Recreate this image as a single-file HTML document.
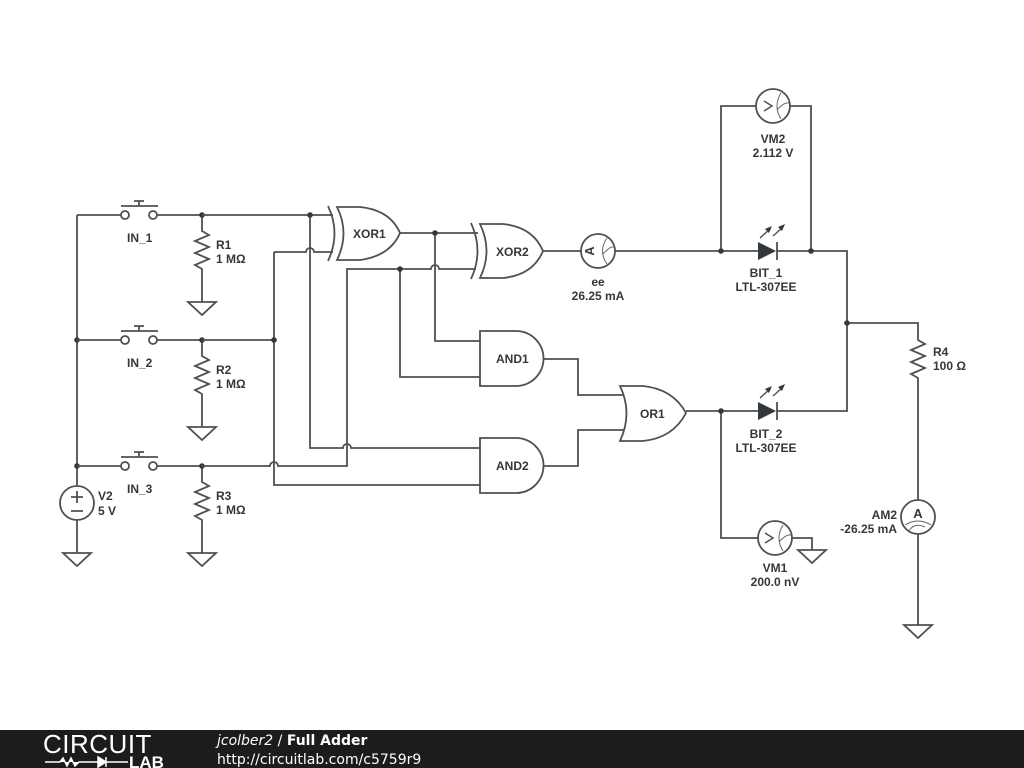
<!DOCTYPE html>
<html><head><meta charset="utf-8"><style>
html,body{margin:0;padding:0;background:#fff;}
svg{display:block;}
text{font-family:"Liberation Sans",sans-serif;font-weight:bold;font-size:12px;fill:#33383c;}
.w{fill:none;stroke:#4c5155;stroke-width:1.8;stroke-linejoin:miter;}
.g{fill:#fff;stroke:#4c5155;stroke-width:1.8;}
.d{fill:#33383c;}
.m{fill:none;stroke:#666;stroke-width:1;}
</style></head><body>
<svg width="1024" height="768" viewBox="0 0 1024 768" xmlns="http://www.w3.org/2000/svg">
<rect width="1024" height="768" fill="#fff"/>
<path class="w" d="M77,215 L77,486 M77,520 L77,553"/>
<circle class="g" cx="77" cy="503" r="17"/>
<path class="w" d="M71,497 L83,497 M77,491 L77,503 M71,511 L83,511"/>
<path class="w" d="M63,553 L91,553 L77,566 Z"/>
<circle class="d" cx="77" cy="340" r="2.8"/><circle class="d" cx="77" cy="466" r="2.8"/>
<text x="98" y="500">V2</text><text x="98" y="515">5 V</text>
<g id="sw">
<path class="w" d="M77,215 L121,215 M157,215 L202,215"/>
<circle class="g" cx="125" cy="215" r="4"/><circle class="g" cx="153" cy="215" r="4"/>
<path class="w" d="M121,206 L158,206 M139,206 L139,201 M134,201 L144,201"/>
</g>
<use href="#sw" y="125"/>
<use href="#sw" y="251"/>
<text x="127" y="242">IN_1</text><text x="127" y="367">IN_2</text><text x="127" y="493">IN_3</text>
<g id="res">
<path class="w" d="M202,215 L202,231 L209,235 L195,241 L209,247 L195,253 L209,259 L195,265 L202,269 L202,302"/>
<path class="w" d="M188,302 L216,302 L202,315 Z"/>
<circle class="d" cx="202" cy="215" r="2.8"/>
</g>
<use href="#res" y="125"/>
<use href="#res" y="251"/>
<text x="216" y="249">R1</text><text x="216" y="263">1 MΩ</text>
<text x="216" y="374">R2</text><text x="216" y="388">1 MΩ</text>
<text x="216" y="500">R3</text><text x="216" y="514">1 MΩ</text>
<path class="w" d="M202,215 L333,215 M310,215 L310,448 L343,448 A4,4 0 0 1 351,448 L480,448"/>
<circle class="d" cx="310" cy="215" r="2.8"/>
<path class="w" d="M202,340 L274,340 M274,252 L274,485 L480,485 M274,252 L306,252 A4,4 0 0 1 314,252 L333,252"/>
<circle class="d" cx="274" cy="340" r="2.8"/>
<path class="w" d="M202,466 L270,466 A4,4 0 0 1 278,466 L347,466 L347,269 L431,269 A4,4 0 0 1 439,269 L476,269 M400,269 L400,377 L480,377"/>
<circle class="d" cx="400" cy="269" r="2.8"/>
<path class="w" d="M400,233 L478,233 M435,233 L435,341 L480,341"/>
<circle class="d" cx="435" cy="233" r="2.8"/>
<path class="g" d="M337,207 L360,207 Q390,210 400,233 Q390,256 360,260 L337,260 Q350,233 337,207 Z"/>
<path class="w" d="M328,206 Q341,233 328,261"/>
<text x="353" y="238">XOR1</text>
<path class="g" d="M480,224 L503,224 Q533,227 543,251 Q533,275 503,278 L480,278 Q493,251 480,224 Z"/>
<path class="w" d="M471,223 Q484,251 471,279"/>
<text x="496" y="256">XOR2</text>
<path class="g" d="M480,331 L516,331 A27.5,27.5 0 0 1 516,386 L480,386 Z"/>
<text x="496" y="363">AND1</text>
<path class="g" d="M480,438 L516,438 A27.5,27.5 0 0 1 516,493 L480,493 Z"/>
<text x="496" y="470">AND2</text>
<path class="w" d="M543,359 L578,359 L578,395 L624,395 M543,466 L578,466 L578,430 L624,430"/>
<path class="g" d="M620,386 L643,386 Q673,389 686,413 Q673,438 643,441 L620,441 Q633,413 620,386 Z"/>
<text x="640" y="418">OR1</text>
<path class="w" d="M543,251 L581,251 M615,251 L758,251 M777,251 L847,251 L847,411 L777,411 M758,411 L686,411"/>
<circle class="g" cx="598" cy="251" r="17"/>
<text x="0" y="0" transform="translate(594,251) rotate(-90)" text-anchor="middle" style="font-size:13px">A</text>
<path class="m" d="M607,238 Q598,251 607,264 M603,254 Q610,246 614,247"/>
<text x="598" y="286" text-anchor="middle">ee</text><text x="598" y="300" text-anchor="middle">26.25 mA</text>
<path class="w" d="M721,251 L721,106 L756,106 M790,106 L811,106 L811,251"/>
<circle class="g" cx="773" cy="106" r="17"/>
<path class="w" d="M764,101 L772,106 L764,111" style="stroke-width:1.5"/>
<path class="m" d="M781,93 Q773,106 781,119 M777,110 Q784,102 789,103"/>
<circle class="d" cx="721" cy="251" r="2.8"/><circle class="d" cx="811" cy="251" r="2.8"/>
<text x="773" y="143" text-anchor="middle">VM2</text><text x="773" y="157" text-anchor="middle">2.112 V</text>
<g id="led">
<path class="d" d="M758,242 L758,260 L776,251 Z"/>
<path class="w" d="M777,242 L777,260"/>
<path class="w" d="M760,238 L770,229 M773,236 L783,227" style="stroke-width:1.4"/>
<path class="d" d="M772,226 L765,229 L769,233 Z M785,224 L778,227 L782,231 Z"/>
</g>
<use href="#led" y="160"/>
<text x="766" y="277" text-anchor="middle">BIT_1</text><text x="766" y="291" text-anchor="middle">LTL-307EE</text>
<text x="766" y="438" text-anchor="middle">BIT_2</text><text x="766" y="452" text-anchor="middle">LTL-307EE</text>
<path class="w" d="M721,411 L721,538 L758,538 M792,538 L812,538 L812,550"/>
<circle class="d" cx="721" cy="411" r="2.8"/>
<circle class="g" cx="775" cy="538" r="17"/>
<path class="w" d="M765,533 L773,538 L765,543" style="stroke-width:1.5"/>
<path class="m" d="M783,525 Q775,538 783,551 M779,542 Q786,534 791,535"/>
<path class="w" d="M798,550 L826,550 L812,563 Z"/>
<text x="775" y="572" text-anchor="middle">VM1</text><text x="775" y="586" text-anchor="middle">200.0 nV</text>
<path class="w" d="M847,323 L918,323 L918,340 L925,344 L911,350 L925,356 L911,362 L925,368 L911,374 L918,378 L918,500 M918,534 L918,625"/>
<circle class="d" cx="847" cy="323" r="2.8"/>
<text x="933" y="356">R4</text><text x="933" y="370">100 Ω</text>
<circle class="g" cx="918" cy="517" r="17"/>
<text x="918" y="518" text-anchor="middle" style="font-size:13px">A</text>
<path class="m" d="M905,525 Q918,517 931,525 M909,531 Q914,522 925,527"/>
<text x="897" y="519" text-anchor="end">AM2</text><text x="897" y="533" text-anchor="end">-26.25 mA</text>
<path class="w" d="M904,625 L932,625 L918,638 Z"/>
<rect x="0" y="730" width="1024" height="38" fill="#1c1c1c"/>
<text x="43" y="753" style="font-weight:normal;font-size:26px;fill:#fff;letter-spacing:0.5px">CIRCUIT</text>
<path d="M45,762 L60,762 L63,758 L67,766 L71,758 L75,766 L79,762 L98,762 M98,757 L98,767 L106,762 Z M106,757 L106,767 M106,762 L128,762" fill="#fff" stroke="#fff" stroke-width="1.5"/>
<text x="129" y="768" style="font-size:17px;fill:#fff">LAB</text>
<text x="217" y="745" style="font-size:14px;fill:#fff;font-weight:normal;font-style:italic;font-family:'DejaVu Sans',sans-serif">jcolber2 <tspan style="font-style:normal">/</tspan> <tspan style="font-style:normal;font-weight:bold">Full Adder</tspan></text>
<text x="217" y="764" style="font-size:14px;fill:#fff;font-weight:normal;font-family:'DejaVu Sans',sans-serif">http://circuitlab.com/c5759r9</text>
</svg>
</body></html>
